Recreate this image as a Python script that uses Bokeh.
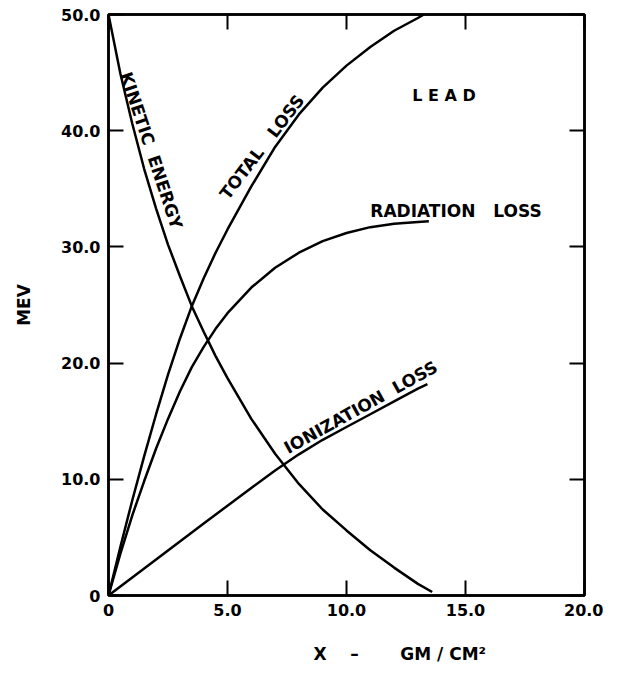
from bokeh.plotting import figure
from bokeh.models import Range1d, LinearAxis, FixedTicker, Label
from bokeh.embed import file_html
from bokeh.resources import INLINE

# ---- data ----
ke_x = [0, 0.5, 1, 1.5, 2, 2.5, 3, 3.5, 4, 4.5, 5, 6, 7, 8, 9, 10, 11, 12, 13, 13.6]
ke_y = [50, 44.9, 40.6, 36.7, 33.3, 30.2, 27.5, 24.9, 22.7, 20.6, 18.7, 15.2, 12.2,
        9.6, 7.4, 5.6, 3.9, 2.4, 1.0, 0.3]

tot_x = [0, 0.5, 1, 1.5, 2, 2.5, 3, 3.5, 4, 4.5, 5, 6, 7, 8, 9, 10, 11, 12, 13, 13.25]
tot_y = [0, 4.2, 8.2, 12.0, 15.6, 19.0, 22.1, 24.9, 27.3, 29.5, 31.5, 35.2, 38.6,
         41.4, 43.7, 45.6, 47.2, 48.6, 49.7, 50.0]

rad_x = [0, 0.5, 1, 1.5, 2, 2.5, 3, 3.5, 4, 4.5, 5, 6, 7, 8, 9, 10, 11, 12, 13, 13.46]
rad_y = [0, 3.6, 6.9, 9.85, 12.65, 15.2, 17.55, 19.65, 21.4, 22.95, 24.3, 26.5, 28.2,
         29.5, 30.5, 31.2, 31.7, 32.0, 32.15, 32.2]

ion_x = [0, 2, 4, 6, 7, 8, 9, 10, 11, 12, 13, 13.4]
ion_y = [0, 3.1, 6.2, 9.25, 10.75, 12.15, 13.4, 14.5, 15.6, 16.7, 17.8, 18.2]

x_ticks = [0, 5, 10, 15, 20]
x_tick_labels = ["0", "5.0", "10.0", "15.0", "20.0"]
y_ticks = [0, 10, 20, 30, 40, 50]
y_tick_labels = ["0", "10.0", "20.0", "30.0", "40.0", "50.0"]

FONT = "DejaVu Sans"
LW = 2.5
NB = "\u00a0"

p = figure(width=603, height=667, output_backend="svg", toolbar_location=None,
           x_range=Range1d(0, 20), y_range=Range1d(0, 50),
           x_axis_location=None, y_axis_location=None,
           min_border_left=108, min_border_right=19,
           min_border_top=14, min_border_bottom=72)
p.background_fill_color = "white"
p.border_fill_color = "white"
p.outline_line_color = "black"
p.outline_line_width = LW
p.xgrid.visible = False
p.ygrid.visible = False


def style_axis(ax, show_labels):
    ax.axis_line_color = "black"
    ax.axis_line_width = LW
    ax.major_tick_line_color = "black"
    ax.major_tick_line_width = 2
    ax.major_tick_in = 15
    ax.major_tick_out = 0
    ax.minor_tick_line_color = None
    if show_labels:
        ax.major_label_text_font = FONT
        ax.major_label_text_font_style = "bold"
        ax.major_label_text_font_size = "16px"
        ax.major_label_text_color = "black"
        ax.major_label_standoff = 8
    else:
        ax.major_label_text_font_size = "0px"
        ax.major_label_text_color = None
        ax.major_label_text_alpha = 0
        ax.major_label_standoff = 0


# x-axis title, shifted right of centre as in the reference
xb = LinearAxis(ticker=FixedTicker(ticks=x_ticks),
                major_label_overrides=dict(zip(x_ticks, x_tick_labels)),
                axis_label=NB * 18 + "X" + NB * 4 + "\u2013" + NB * 7 + "GM / CM\u00b2")
style_axis(xb, True)
xb.axis_label_text_font = FONT
xb.axis_label_text_font_style = "bold"
xb.axis_label_text_font_size = "17px"
xb.axis_label_text_color = "black"
xb.axis_label_standoff = 25
p.add_layout(xb, "below")

yl = LinearAxis(ticker=FixedTicker(ticks=y_ticks),
                major_label_overrides=dict(zip(y_ticks, y_tick_labels)),
                axis_label="MEV")
style_axis(yl, True)
yl.axis_label_text_font = FONT
yl.axis_label_text_font_style = "bold"
yl.axis_label_text_font_size = "17px"
yl.axis_label_text_color = "black"
yl.axis_label_standoff = 24
p.add_layout(yl, "left")

xt = LinearAxis(ticker=FixedTicker(ticks=x_ticks))
style_axis(xt, False)
p.add_layout(xt, "above")

yr = LinearAxis(ticker=FixedTicker(ticks=y_ticks))
style_axis(yr, False)
p.add_layout(yr, "right")

# ---- curves ----
p.line(ke_x, ke_y, line_color="black", line_width=LW)
p.line(tot_x, tot_y, line_color="black", line_width=LW)
p.line(rad_x, rad_y, line_color="black", line_width=LW)
p.line(ion_x, ion_y, line_color="black", line_width=LW)


def add_label(x, y, text, size="17px", angle=0.0):
    p.add_layout(Label(x=x, y=y, text=text, angle=angle, angle_units="rad",
                       text_font=FONT, text_font_style="bold",
                       text_font_size=size, text_color="black",
                       text_align="center", text_baseline="middle"))


add_label(1.80, 38.3, "KINETIC" + NB * 2 + "ENERGY", "17px", -1.25)
add_label(6.45, 38.6, "TOTAL" + NB * 3 + "LOSS", "17px", 0.916)
add_label(14.1, 43.0, "L" + NB + "E" + NB + "A" + NB + "D", "16px")
add_label(14.6, 33.1, "RADIATION" + NB * 3 + "LOSS", "17px")
add_label(10.6, 16.2, "IONIZATION" + NB * 2 + "LOSS", "17px", 0.506)

open("out.html", "w").write(file_html(p, INLINE))
